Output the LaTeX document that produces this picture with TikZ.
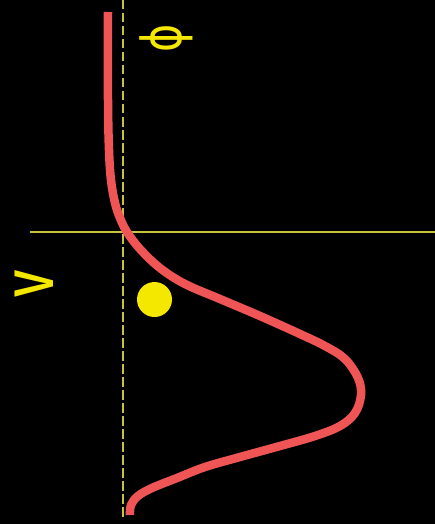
\documentclass[tikz,border=0pt]{standalone}
\usepackage{fontspec}
\setmainfont{Liberation Sans}
\newfontfamily\symfont{DejaVu Sans}
\usepackage{graphicx}
\definecolor{curvered}{RGB}{240,85,85}
\definecolor{axisyel}{RGB}{200,195,60}
\definecolor{brightyel}{RGB}{245,232,0}
\newcommand{\bigfont}{\fontsize{56}{56}\selectfont}
\begin{document}
\begin{tikzpicture}[x=1pt,y=-1pt]
\tikzset{axisline/.style={draw=axisyel,line width=1.5pt},
  rotlabel/.style={text=brightyel,inner sep=0pt,rotate=90}}
\fill[black] (0,0) rectangle (435,524);
\useasboundingbox (0,0) rectangle (435,524);
% axes
\draw[axisline,dash pattern=on 9.5pt off 3.5pt] (123,0) -- (123,520);
\draw[axisline] (30,232) -- (435,232);
% labels
\node[rotlabel,font=\fontsize{55}{55}\symfont] (phisym) at (166,38) {\scalebox{0.78}[1]{ϕ}};
\node[rotlabel,font=\bigfont\bfseries] (vsym) at (34.5,284) {\scalebox{0.73}[1]{V}};
% dot
\fill[brightyel] (154.5,299.5) circle (17.5);
% curve
\draw[curvered,line width=8.5pt,line cap=butt] plot[smooth,tension=0.6] coordinates {
 (108,12) (108,100) (109,150) (111,180) (115,203) (120,218) (127,232)
 (140,249) (160,268) (185,284) (220,299) (260,316) (300,334) (325,346)
 (345,359) (358,378) (361,395) (355,413) (340,426) (315,436) (280,446)
 (240,457) (205,467) (177,478) (152,488) (138,496) (131,505) (130,515)};
\end{tikzpicture}
\end{document}
